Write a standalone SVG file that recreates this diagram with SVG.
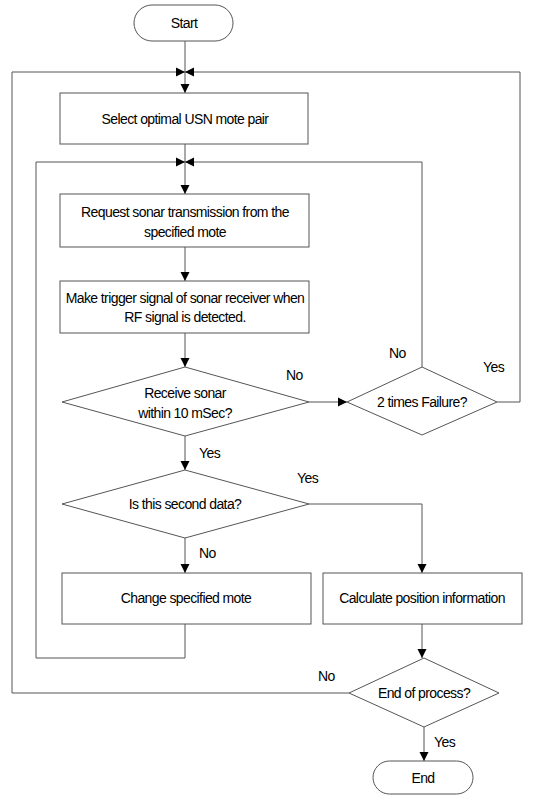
<svg xmlns="http://www.w3.org/2000/svg" width="548" height="796" viewBox="0 0 548 796">
<style>
.n{fill:#fff;stroke:#555;stroke-width:1}
.t{font-family:"Liberation Sans",Arial,sans-serif;font-size:14px;letter-spacing:-0.6px;fill:#000;text-anchor:middle}
.l{font-family:"Liberation Sans",Arial,sans-serif;font-size:14px;letter-spacing:-0.6px;fill:#000}
.c{fill:none;stroke:#555;stroke-width:1}
</style>
<defs>
<marker id="ah" viewBox="0 0 10 10" refX="10" refY="5" markerWidth="9" markerHeight="11" markerUnits="userSpaceOnUse" orient="auto">
<path d="M0,0 L10,5 L0,10 z" fill="#000"/>
</marker>
</defs>
<rect width="548" height="796" fill="#fff"/>
<g id="connectors">
<path class="c" d="M185,41 V93" marker-end="url(#ah)"/>
<path class="c" d="M349,693 H12 V72 H185" marker-end="url(#ah)"/>
<path class="c" d="M497,402 H520 V72 H185" marker-end="url(#ah)"/>
<path class="c" d="M185,144 V194" marker-end="url(#ah)"/>
<path class="c" d="M185,624 V658 H36 V162 H185" marker-end="url(#ah)"/>
<path class="c" d="M422,367 V162 H185" marker-end="url(#ah)"/>
<path class="c" d="M185,247 V281" marker-end="url(#ah)"/>
<path class="c" d="M185,333 V367" marker-end="url(#ah)"/>
<path class="c" d="M309,402 H347" marker-end="url(#ah)"/>
<path class="c" d="M185,436 V470" marker-end="url(#ah)"/>
<path class="c" d="M185,538 V573" marker-end="url(#ah)"/>
<path class="c" d="M309,504 H422 V573" marker-end="url(#ah)"/>
<path class="c" d="M422,624 V658" marker-end="url(#ah)"/>
<path class="c" d="M424,727 V761" marker-end="url(#ah)"/>
<text class="l" x="389" y="358">No</text>
<text class="l" x="483" y="372">Yes</text>
<text class="l" x="286" y="380">No</text>
<text class="l" x="199" y="458">Yes</text>
<text class="l" x="297" y="483">Yes</text>
<text class="l" x="199" y="558">No</text>
<text class="l" x="318" y="681">No</text>
<text class="l" x="434" y="747">Yes</text>
</g>
<g id="start">
<rect class="n" x="134" y="5" width="99" height="36" rx="18"/>
<text class="t" x="184" y="28">Start</text>
</g>
<g id="select">
<rect class="n" x="60" y="93" width="248" height="51"/>
<text class="t" x="185" y="124">Select optimal USN mote pair</text>
</g>
<g id="request">
<rect class="n" x="60" y="194" width="249" height="53"/>
<text class="t" x="185" y="217">Request sonar transmission from the</text>
<text class="t" x="185" y="237">specified mote</text>
</g>
<g id="trigger">
<rect class="n" x="60" y="281" width="249" height="52"/>
<text class="t" x="185" y="303">Make trigger signal of sonar receiver when</text>
<text class="t" x="185" y="322">RF signal is detected.</text>
</g>
<g id="receive">
<polygon class="n" points="185,367 309,402 185,436 62,402"/>
<text class="t" x="185" y="398">Receive sonar</text>
<text class="t" x="185" y="418">within 10 mSec?</text>
</g>
<g id="failure">
<polygon class="n" points="422,367 497,402 422,435 347,402"/>
<text class="t" x="422" y="407">2 times Failure?</text>
</g>
<g id="second">
<polygon class="n" points="185,470 309,504 185,538 62,504"/>
<text class="t" x="185" y="509">Is this second data?</text>
</g>
<g id="change">
<rect class="n" x="62" y="573" width="249" height="51"/>
<text class="t" x="186" y="603">Change specified mote</text>
</g>
<g id="calculate">
<rect class="n" x="323" y="573" width="199" height="51"/>
<text class="t" x="422" y="603">Calculate position information</text>
</g>
<g id="endprocess">
<polygon class="n" points="424,658 499,693 424,727 349,693"/>
<text class="t" x="424" y="698">End of process?</text>
</g>
<g id="end">
<rect class="n" x="373" y="761" width="100" height="33" rx="16.5"/>
<text class="t" x="423" y="783">End</text>
</g>
</svg>
